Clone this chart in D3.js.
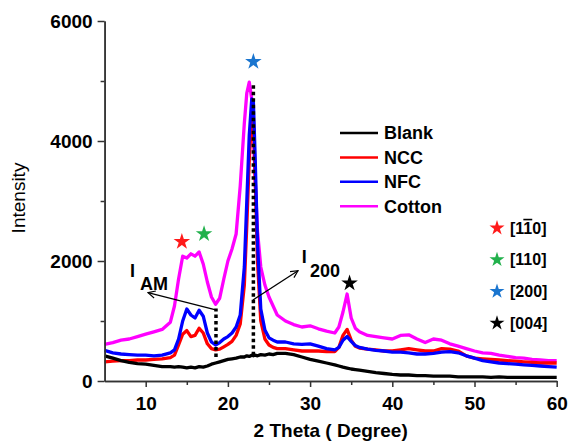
<!DOCTYPE html>
<html>
<head>
<meta charset="utf-8">
<script src="https://cdn.jsdelivr.net/npm/d3@7"></script>
<style>
  body { margin: 0; background: #fff; }
  text { font-family: "Liberation Sans", Arial, sans-serif; }
</style>
</head>
<body>
<script>
// 2 theta grid (degrees), shared by all four patterns
const theta = [5,6,7,8,9,10,11,12,13,13.5,14,14.5,15,15.5,16,16.5,17,17.5,18,18.5,19,19.5,20,20.5,21,21.5,22,22.3,22.6,22.9,23.1,23.3,23.6,24,24.5,25,25.5,26,27,28,29,30,31,32,33,33.5,34,34.5,35,35.5,36,37,38,39,40,41,42,43,44,45,46,47,48,49,50,51,52,53,54,55,56,57,58,59,60];

const cotton = [610,640,680,700,740,780,820,860,980,1250,1700,2080,2050,2120,2080,2150,1950,1650,1400,1280,1380,1700,2000,2200,2450,3250,4300,4800,4980,4700,4200,3400,2500,1900,1600,1400,1250,1100,1000,940,900,920,870,830,800,900,1150,1450,1050,880,820,760,740,720,700,760,770,700,640,700,680,620,580,540,500,470,460,430,410,390,380,360,350,340,340];
const ncc = [320,330,340,340,350,350,360,370,390,430,600,780,840,740,760,880,800,620,540,520,530,570,610,660,760,950,1600,2600,3700,4400,4350,3500,2000,1000,700,600,560,540,540,520,500,500,500,490,490,560,760,860,680,580,550,530,520,500,500,520,540,520,500,500,540,530,500,420,380,370,360,350,340,330,320,310,300,300,300];
const nfc = [510,470,450,440,430,430,420,430,470,520,700,1000,1200,1100,1050,1180,1080,800,650,600,640,700,740,800,900,1100,1900,3000,4100,4700,4650,3800,2300,1200,850,720,680,650,650,620,610,620,580,540,520,560,680,740,660,590,560,530,510,500,480,480,470,450,450,460,480,490,470,420,380,340,320,300,290,280,270,260,250,240,230];
const blank = [420,380,340,310,290,280,260,240,240,230,240,230,220,230,220,240,230,250,280,300,320,340,360,370,380,400,400,420,410,430,420,430,420,440,430,450,440,460,460,440,400,360,330,300,270,250,230,215,200,190,180,160,140,125,110,100,100,90,90,80,80,80,70,70,70,70,60,70,60,60,60,60,60,60,60];

const seriesNames = ["Blank", "NCC", "NFC", "Cotton"];
const seriesColors = ["#000000", "#ff0000", "#0000ff", "#ff00ff"];

// diffraction peak markers
const planeLabels = ["[1", "[110]", "[200]", "[004]"];
const planeColors = ["#ff1a1a", "#22b14c", "#1a75cf", "#000000"];
const planeTheta = [14.4, 17.1, 23.1, 34.8];
const planeHeight = [2320, 2450, 5320, 1630];

const xTicks = [10, 20, 30, 40, 50, 60];
const xMinor = [15, 25, 35, 45, 55];
const yTicks = [0, 2000, 4000, 6000];
const yMinor = [1000, 3000, 5000];

const outerWidth = 569;
const outerHeight = 441;
const margin = {top: 21, left: 104.6, bottom: 60, right: 12.3};
const width = outerWidth - margin.left - margin.right;
const height = outerHeight - margin.top - margin.bottom;

const svg = d3.select('body')
  .append('svg')
  .attr('width', outerWidth)
  .attr('height', outerHeight)
  .append('g')
  .attr('transform', `translate(${margin.left}, ${margin.top})`);

const xScale = d3.scaleLinear().domain([5, 60]).range([0, width]);
const yScale = d3.scaleLinear().domain([0, 6000]).range([height, 0]);

// patterns, cotton at the back
const table = [blank, ncc, nfc, cotton];
const line = d3.line()
    .x((d, i) => xScale(theta[i]))
    .y(d => yScale(d));

[3, 1, 2, 0].forEach(k => {
    svg.append("path")
        .datum(table[k])
        .attr("fill", "none")
        .attr("stroke", seriesColors[k])
        .attr("stroke-width", 3.3)
        .attr("stroke-linejoin", "round")
        .attr("d", line);
});

// dotted guides
const guides = [[18.55, 400, 1210], [23.1, 430, 4970]];
guides.forEach(g => {
    svg.append("line")
        .attr("x1", xScale(g[0])).attr("x2", xScale(g[0]))
        .attr("y1", yScale(g[1])).attr("y2", yScale(g[2]))
        .attr("stroke", "#000")
        .attr("stroke-width", 3.5)
        .attr("stroke-dasharray", "3.5,3");
});

// arrows
svg.append("defs").append("marker")
    .attr("id", "head")
    .attr("viewBox", "0 0 10 10")
    .attr("refX", 9).attr("refY", 5)
    .attr("markerWidth", 9).attr("markerHeight", 9)
    .attr("markerUnits", "userSpaceOnUse")
    .attr("orient", "auto")
    .append("path")
    .attr("d", "M1,1 L9,5 L1,9")
    .attr("fill", "none")
    .attr("stroke", "#000")
    .attr("stroke-width", 1.3);

const arrows = [[18.64, 1183, 10.28, 1472], [23.05, 1350, 28.53, 1838]];
arrows.forEach(a => {
    svg.append("line")
        .attr("x1", xScale(a[0])).attr("y1", yScale(a[1]))
        .attr("x2", xScale(a[2])).attr("y2", yScale(a[3]))
        .attr("stroke", "#000")
        .attr("stroke-width", 1.3)
        .attr("marker-end", "url(#head)");
});

svg.append("text").attr("x", xScale(8.1)).attr("y", yScale(1733))
    .attr("font-size", 18).attr("font-weight", "bold").text("I");
svg.append("text").attr("x", xScale(9.3)).attr("y", yScale(1517))
    .attr("font-size", 18).attr("font-weight", "bold").text("AM");
svg.append("text").attr("x", xScale(29.0)).attr("y", yScale(1967))
    .attr("font-size", 18).attr("font-weight", "bold").text("I");
svg.append("text").attr("x", xScale(30.0)).attr("y", yScale(1733))
    .attr("font-size", 18).attr("font-weight", "bold").text("200");

// stars above the peaks
const star = d3.symbol().type(d3.symbolStar).size(85);
svg.selectAll(".peakstar")
    .data(planeTheta)
    .enter()
    .append("path")
    .attr("class", "peakstar")
    .attr("d", star)
    .attr("fill", (d, i) => planeColors[i])
    .attr("transform", (d, i) => `translate(${xScale(d)}, ${yScale(planeHeight[i])})`);

// axes
const xAxis = d3.axisBottom(xScale).tickValues(xTicks).tickSize(6).tickSizeOuter(0).tickPadding(10).tickFormat(d3.format("d"));
const xAxisMinor = d3.axisBottom(xScale).tickValues(xMinor).tickSize(4).tickSizeOuter(0).tickFormat("");
const yAxis = d3.axisLeft(yScale).tickValues(yTicks).tickSize(7).tickSizeOuter(0).tickPadding(5).tickFormat(d3.format("d"));
const yAxisMinor = d3.axisLeft(yScale).tickValues(yMinor).tickSize(4).tickSizeOuter(0).tickFormat("");

svg.append("g").attr("class", "axis").attr("transform", `translate(0, ${height})`).call(xAxisMinor);
svg.append("g").attr("class", "axis").attr("transform", `translate(0, ${height})`).call(xAxis);
svg.append("g").attr("class", "axis").call(yAxisMinor);
svg.append("g").attr("class", "axis").call(yAxis);

svg.selectAll(".axis path, .axis line").attr("stroke", "#333").attr("stroke-width", 1.5);
svg.selectAll(".axis text")
    .attr("font-family", "'Liberation Sans', Arial, sans-serif")
    .attr("font-size", 19)
    .attr("font-weight", "bold")
    .attr("fill", "#000");

svg.append("text")
    .attr("x", width / 2)
    .attr("y", height + 56)
    .attr("text-anchor", "middle")
    .attr("font-size", 19)
    .attr("font-weight", "bold")
    .text("2 Theta ( Degree)");

svg.append("text")
    .attr("transform", `translate(${25 - margin.left}, ${177}) rotate(-90)`)
    .attr("text-anchor", "middle")
    .attr("font-size", 19)
    .text("Intensity");

// series legend
const legend = svg.append("g").attr("transform", `translate(${340 - margin.left}, ${133 - margin.top})`);
seriesNames.forEach((name, i) => {
    legend.append("line")
        .attr("x1", 0).attr("x2", 38)
        .attr("y1", i * 24.4).attr("y2", i * 24.4)
        .attr("stroke", seriesColors[i])
        .attr("stroke-width", 2.5);
    legend.append("text")
        .attr("x", 44).attr("y", i * 24.4)
        .attr("dy", "0.36em")
        .attr("font-size", 18)
        .attr("font-weight", "bold")
        .text(name);
});

// plane legend
const planes = svg.append("g").attr("transform", `translate(${497 - margin.left}, ${228 - margin.top})`);
planeLabels.forEach((lab, i) => {
    planes.append("path")
        .attr("d", d3.symbol().type(d3.symbolStar).size(70))
        .attr("fill", planeColors[i])
        .attr("transform", `translate(0, ${i * 31.7})`);
    const t = planes.append("text")
        .attr("x", 13).attr("y", i * 31.7)
        .attr("dy", "0.36em")
        .attr("font-size", 16)
        .attr("font-weight", "bold")
        .text(lab);
    if (i === 0) {
        t.append("tspan").attr("text-decoration", "overline").text("1");
        t.append("tspan").text("0]");
    }
});
</script>
</body>
</html>
